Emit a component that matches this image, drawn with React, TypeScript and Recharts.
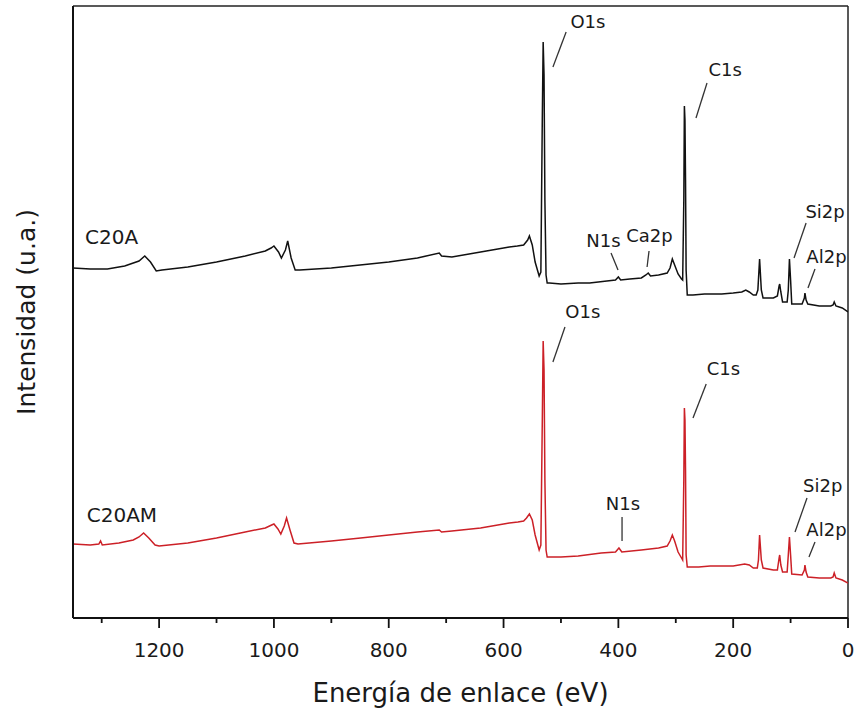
import React from "react"
import { LineChart, Line, XAxis, YAxis, ReferenceLine, ReferenceDot } from "recharts"

// binding energy (eV) and intensity (a.u., offset)
const c20aEnergy = [
  1350, 1320, 1290, 1260, 1235, 1225, 1215, 1205, 1195, 1150, 1100, 1050, 1015, 1005, 1000, 992, 987, 980, 976, 970,
  963, 955, 900, 850, 800, 750, 712, 708, 690, 640, 590, 576, 565, 558, 555, 550, 545, 538, 535, 532.5, 531, 529.5,
  528, 526, 524, 520, 500, 470, 450, 420, 405, 400, 396, 380, 360, 352, 348, 344, 330, 315, 310, 306, 302, 296, 290,
  288, 286, 285, 284, 283, 282, 280, 270, 250, 220, 200, 185, 178, 172, 165, 160, 157, 154, 151, 148, 130, 123, 120,
  119, 117, 114, 106, 104, 102, 100, 98, 80, 76, 75, 73, 70, 50, 30, 26, 24, 21, 10, 0,
]
const c20aIntensity = [
  350, 349, 349, 352, 357, 362, 356, 347, 348, 351, 356, 362, 367, 370, 372, 366, 360, 368, 377, 360,
  348, 348, 350, 353, 356, 360, 365, 362, 361, 366, 371, 372, 373, 378, 382, 373, 356, 342, 346, 500, 576, 543,
  418, 343, 335, 335, 334, 335, 335, 337, 338, 341, 338, 339, 340, 343, 345, 342, 343, 345, 350, 359, 353, 344, 339,
  338, 418, 512, 498, 438, 348, 323, 323, 324, 324, 325, 326, 328, 326, 323, 323, 328, 359, 328, 320, 320, 322, 332,
  334, 326, 316, 316, 328, 359, 338, 314, 314, 320, 325, 318, 314, 312, 312, 313, 316, 312, 310, 306,
]

const c20amEnergy = [
  1350, 1320, 1305, 1302, 1299, 1270, 1245, 1235, 1227, 1218, 1207, 1200, 1150, 1100, 1050, 1015, 1004, 1000, 993,
  988, 982, 978, 972, 965, 958, 900, 849, 800, 750, 712, 708, 690, 640, 590, 575, 565, 560, 555, 550, 545, 538, 535,
  532.5, 531, 529.5, 528, 526, 524, 500, 470, 430, 405, 399, 394, 360, 330, 315, 310, 306, 302, 296, 290, 288, 286,
  285, 284, 283, 282, 280, 260, 240, 200, 180, 172, 165, 158, 156, 154, 151, 148, 130, 123, 120, 119, 117, 114, 106,
  104, 102, 100, 98, 80, 76, 75, 73, 70, 50, 30, 26, 24, 21, 10, 0,
]
const c20amIntensity = [
  74, 73, 74, 77, 73, 75, 78, 81, 85, 80, 73, 72, 75, 80, 86, 90, 93, 94, 89,
  84, 92, 100, 88, 75, 74, 77, 80, 83, 86, 88, 86, 87, 90, 95, 96, 97, 100, 104, 98, 83, 68, 73,
  198, 277, 248, 138, 68, 61, 61, 62, 65, 66, 70, 66, 68, 70, 72, 77, 83, 77, 66, 60, 58, 138,
  210, 198, 148, 63, 51, 51, 52, 52, 54, 53, 50, 50, 58, 83, 58, 50, 48, 48, 60, 63, 53, 46, 46,
  63, 81, 63, 44, 43, 48, 53, 46, 41, 40, 40, 41, 45, 40, 38, 35,
]

const xTicks = [1300, 1200, 1100, 1000, 900, 800, 700, 600, 500, 400, 300, 200, 100, 0]
const xTickLabels = ["1200", "1000", "800", "600", "400", "200", "0"]

// peak labels: text, anchor energy, anchor intensity
const peakNames = ["O1s", "C1s", "N1s", "Ca2p", "Si2p", "Al2p", "O1s", "C1s", "N1s", "Si2p", "Al2p"]
const peakTextX = [453, 214, 426, 346, 40, 37.5, 462, 217, 392, 44, 37.5]
const peakTextY = [590, 542, 371, 376, 400, 355, 300, 243, 108, 126, 82]
// leader lines: [x1, y1, x2, y2]
const leaderLines = [
  [491, 586, 514, 551],
  [245.6, 535, 264.8, 500],
  [412.8, 365, 400.6, 348],
  [346.6, 367, 350, 351],
  [73, 395, 94, 360],
  [57.5, 349, 69.7, 330],
  [493, 291, 514, 256],
  [247, 234, 270, 200],
  [393.6, 101, 393.6, 77],
  [71.4, 120, 92.3, 86],
  [57.5, 76, 68, 61],
]
const sampleNames = ["C20A", "C20AM"]
const sampleX = [1329, 1326]
const sampleY = [374, 96]

const c20a = c20aEnergy.map((e, i) => ({ e, v: c20aIntensity[i] }))
const c20am = c20amEnergy.map((e, i) => ({ e, v: c20amIntensity[i] }))

const FONT = "DejaVu Sans, sans-serif"

function EnergyTick(props: any) {
  const { x, y, payload } = props
  const label = String(payload.value)
  const major = xTickLabels.includes(label)
  return (
    <g>
      <line x1={x} y1={y} x2={x} y2={y + (major ? 10 : 5)} stroke="#111" strokeWidth={1.8} />
      {major && (
        <text x={x} y={y + 39} textAnchor="middle" fontSize={20} fontFamily={FONT} fill="#1a1a1a">
          {label}
        </text>
      )}
    </g>
  )
}

export default function App() {
  return (
    <div style={{ position: "absolute", left: 0, top: 0, background: "#fff" }}>
      <LineChart width={857} height={709} margin={{ top: 6, right: 9, bottom: 0, left: 0 }}>
        <XAxis
          dataKey="e"
          type="number"
          domain={[0, 1350]}
          reversed
          allowDataOverflow
          ticks={xTicks}
          interval={0}
          tick={<EnergyTick />}
          tickLine={false}
          tickSize={0}
          tickMargin={0}
          height={91}
          axisLine={{ stroke: "#111", strokeWidth: 2 }}
          label={{
            content: (p: any) => (
              <text
                x={p.viewBox.x + p.viewBox.width / 2}
                y={p.viewBox.y + 84}
                textAnchor="middle"
                fontSize={26}
                fontFamily={FONT}
                fill="#1a1a1a"
              >
                Energía de enlace (eV)
              </text>
            ),
          }}
        />
        <YAxis
          type="number"
          domain={[0, 612]}
          allowDataOverflow
          tick={false}
          tickLine={false}
          width={73}
          axisLine={{ stroke: "#111", strokeWidth: 2 }}
          label={{
            content: (p: any) => {
              const cx = 26
              const cy = p.viewBox.y + p.viewBox.height / 2
              return (
                <text
                  x={cx}
                  y={cy}
                  transform={`rotate(-90 ${cx} ${cy})`}
                  textAnchor="middle"
                  dominantBaseline="central"
                  fontSize={25}
                  fontFamily={FONT}
                  fill="#1a1a1a"
                >
                  Intensidad (u.a.)
                </text>
              )
            },
          }}
        />
        <ReferenceLine y={612} stroke="#222" strokeWidth={1.5} />
        <ReferenceLine x={0} stroke="#222" strokeWidth={1.5} />
        <Line data={c20a} dataKey="v" type="linear" stroke="#111" strokeWidth={1.5} dot={false} activeDot={false} isAnimationActive={false} />
        <Line data={c20am} dataKey="v" type="linear" stroke="#cc2027" strokeWidth={1.5} dot={false} activeDot={false} isAnimationActive={false} />
        {leaderLines.map((s, i) => (
          <ReferenceLine
            key={`l${i}`}
            segment={[{ x: s[0], y: s[1] }, { x: s[2], y: s[3] }]}
            stroke="#333"
            strokeWidth={1.3}
          />
        ))}
        {peakNames.map((name, i) => (
          <ReferenceDot
            key={`p${i}`}
            x={peakTextX[i]}
            y={peakTextY[i]}
            r={0}
            shape={(p: any) => (
              <text x={p.cx} y={p.cy} textAnchor="middle" fontSize={18} fontFamily={FONT} fill="#1a1a1a">
                {name}
              </text>
            )}
          />
        ))}
        {sampleNames.map((name, i) => (
          <ReferenceDot
            key={`s${i}`}
            x={sampleX[i]}
            y={sampleY[i]}
            r={0}
            shape={(p: any) => (
              <text x={p.cx} y={p.cy} textAnchor="start" fontSize={20} fontFamily={FONT} fill="#1a1a1a">
                {name}
              </text>
            )}
          />
        ))}
      </LineChart>
    </div>
  )
}
